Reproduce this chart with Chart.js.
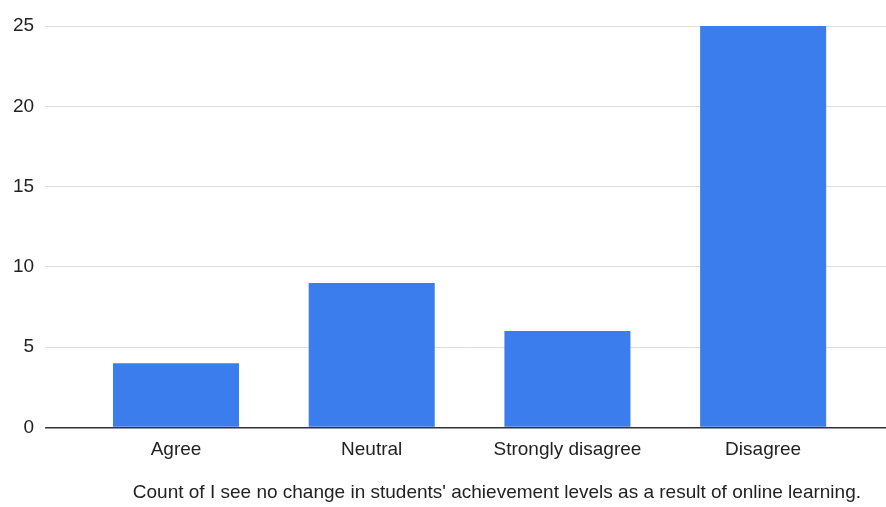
<!DOCTYPE html>
<html>
<head>
<meta charset="utf-8">
<script src="https://cdn.jsdelivr.net/npm/chart.js@4"></script>
<style>
	html, body { margin: 0; padding: 0; background: #fff; overflow: hidden; }
	#wrap { width: 886px; height: 507px; }
</style>
</head>
<body>
<div id="wrap"><canvas id="answers"></canvas></div>
<script>
const categories = ['Agree', 'Neutral', 'Strongly disagree', 'Disagree']
const counts = [4, 9, 6, 25]
const yTicks = [0, 5, 10, 15, 20, 25]
const axisTitle = "Count of I see no change in students' achievement levels as a result of online learning."

const gridColor = (ctx) => (ctx.tick && ctx.tick.value === 0 ? '#333333' : '#dedede')

new Chart(document.getElementById('answers'), {
	type: 'bar',
	data: {
		labels: categories,
		datasets: [
			{
				label: axisTitle,
				data: counts,
				backgroundColor: '#3b7ded',
				borderWidth: 0,
				barPercentage: 0.644,
				categoryPercentage: 1,
			},
		],
	},
	options: {
		responsive: true,
		maintainAspectRatio: false,
		animation: false,
		layout: {
			padding: { left: 2, right: 0, top: 26, bottom: 0 },
		},
		plugins: {
			legend: { display: false },
			tooltip: { enabled: false },
		},
		scales: {
			x: {
				grid: { display: false, drawTicks: false },
				border: { display: false },
				ticks: {
					color: '#222',
					padding: 11,
					font: { family: 'Liberation Sans', size: 19 },
				},
				title: {
					display: true,
					text: axisTitle,
					align: 'end',
					color: '#222',
					padding: { top: 9, bottom: 3 },
					font: { family: 'Liberation Sans', size: 19 },
				},
			},
			y: {
				min: 0,
				max: 25,
				afterBuildTicks: (axis) => {
					axis.ticks = yTicks.map((v) => ({ value: v }))
				},
				grid: {
					color: gridColor,
					lineWidth: (ctx) => (ctx.tick && ctx.tick.value === 0 ? 1.5 : 1),
					drawTicks: true,
					tickLength: 33,
				},
				border: { display: false },
				ticks: {
					color: '#222',
					padding: 11,
					font: { family: 'Liberation Sans', size: 19 },
				},
			},
			// right-side tick marks only, so the grid lines run to the edge
			y2: {
				position: 'right',
				min: 0,
				max: 25,
				afterBuildTicks: (axis) => {
					axis.ticks = yTicks.map((v) => ({ value: v }))
				},
				grid: {
					color: gridColor,
					lineWidth: (ctx) => (ctx.tick && ctx.tick.value === 0 ? 1.5 : 1),
					drawOnChartArea: false,
					drawTicks: true,
					tickLength: 25,
				},
				border: { display: false },
				ticks: { display: false },
			},
		},
	},
})
</script>
</body>
</html>
